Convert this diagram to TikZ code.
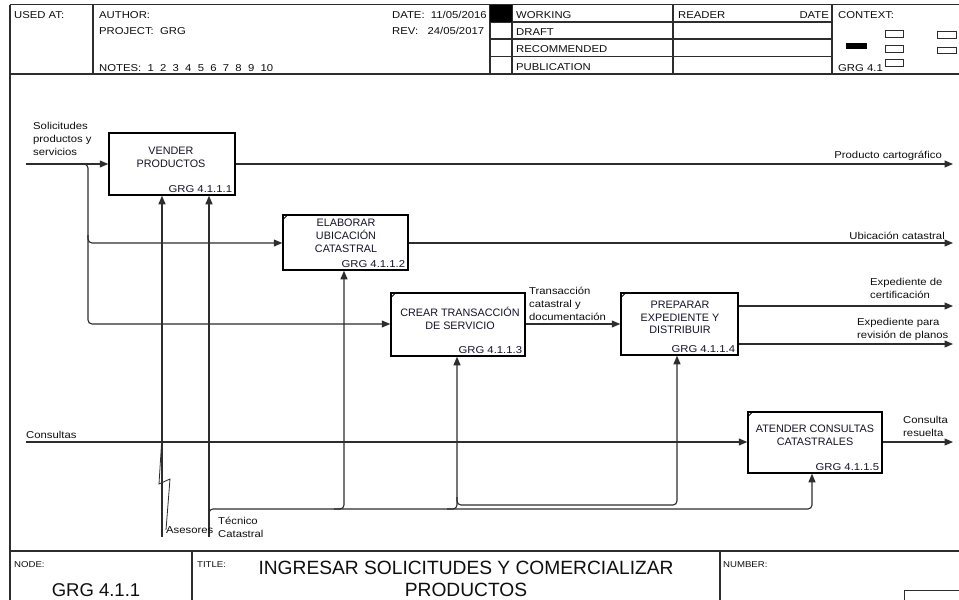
\documentclass[tikz,border=0pt]{standalone}
\usepackage{fontspec}
\setmainfont{Liberation Sans}[FakeStretch=1.13]
\newfontfamily\boxfont{Liberation Sans}
\usetikzlibrary{arrows.meta}
\definecolor{linec}{RGB}{45,45,45}
\definecolor{txtc}{RGB}{15,15,15}
\definecolor{boxtxt}{RGB}{20,20,40}
\begin{document}
\begin{tikzpicture}[x=1pt,y=-1pt,
  frame/.style={draw=linec, line width=1.4pt},
  thin/.style={draw=linec, line width=0.9pt},
  conn/.style={draw=linec, line width=1pt},
  arr/.style={draw=linec, line width=1.1pt, -{Triangle[length=8.5pt,width=7pt]}},
  lbl/.style={font=\fontsize{10}{13}\selectfont, text=txtc, inner sep=0pt},
  hdr/.style={font=\fontsize{10}{12}\selectfont, text=txtc, inner sep=0pt, anchor=base west},
  small/.style={font=\fontsize{8.5}{9}\selectfont, text=txtc, inner sep=0pt, anchor=base west},
  procbox/.style={draw=black, line width=1.5pt, inner sep=0pt, fill=white},
  boxtitle/.style={font=\boxfont\fontsize{10.8}{12.8}\selectfont, text=boxtxt, align=center, inner sep=0pt},
  idlbl/.style={font=\fontsize{10}{12}\selectfont, text=boxtxt, inner sep=0pt, anchor=base east},
  cornermark/.style={draw=black, line width=0.9pt}
]
\useasboundingbox (0,0) rectangle (959,600);
\fill[white] (0,0) rectangle (959,600);

% ---------- header frame ----------
\draw[frame] (10,4.5) -- (959,4.5);
\draw[frame] (10,74) -- (959,74);
\draw[frame] (10,4.5) -- (10,551);
\draw[frame] (93,4.5) -- (93,74);
\draw[frame] (490,4.5) -- (490,74);
\draw[frame] (512,4.5) -- (512,74);
\draw[frame] (673,4.5) -- (673,74);
\draw[frame] (832,4.5) -- (832,74);
\draw[frame] (490,22) -- (832,22);
\draw[frame] (490,39) -- (832,39);
\draw[frame] (490,56.5) -- (832,56.5);
\fill[black] (490,4.5) rectangle (512,22);

\node[hdr] (usedat) at (14,18) {USED AT:};
\node[hdr] (author) at (99,18) {AUTHOR:};
\node[hdr] (project) at (99,34) {PROJECT:~~GRG};
\node[hdr] (notes) at (99,71) {NOTES:~~1~~2~~3~~4~~5~~6~~7~~8~~9~~10};
\node[hdr] (date) at (392,18) {DATE:~~11/05/2016};
\node[hdr] (rev) at (392,34) {REV:~~~24/05/2017};
\node[hdr] (working) at (516,18) {WORKING};
\node[hdr] (draft) at (516,35) {DRAFT};
\node[hdr] (recom) at (516,52.5) {RECOMMENDED};
\node[hdr] (publ) at (516,70) {PUBLICATION};
\node[hdr] (reader) at (678,18) {READER};
\node[hdr, anchor=base east] (rdate) at (829,18) {DATE};
\node[hdr] (context) at (838,18) {CONTEXT:};
\node[hdr] (ctxid) at (838,71) {GRG 4.1};
\fill[black] (846,43) rectangle (867,48.5);
\draw[thin] (885,30.5) rectangle (903,37);
\draw[thin] (885,45.5) rectangle (903,52);
\draw[thin] (885,59.5) rectangle (903,66);
\draw[thin] (937,31.5) rectangle (956,38);
\draw[thin] (937,47) rectangle (956,53.5);

% ---------- bottom frame ----------
\draw[frame] (10,551) -- (959,551);
\draw[frame] (10,551) -- (10,600);
\draw[frame] (192,551) -- (192,600);
\draw[frame] (720,551) -- (720,600);
\draw[thin] (904,601) -- (904,590) -- (960,590);
\node[small] (nodelbl) at (14,567) {NODE:};
\node[small] (titlelbl) at (197,567) {TITLE:};
\node[small] (numlbl) at (723,567) {NUMBER:};
\node[font=\boxfont\fontsize{18.5}{20}\selectfont, text=txtc, inner sep=0pt, anchor=base] (nodeid) at (96,596) {GRG 4.1.1};
\node[font=\boxfont\fontsize{19.2}{22}\selectfont, text=txtc, inner sep=0pt, align=center, anchor=base] (title) at (466,596.5) {INGRESAR SOLICITUDES Y COMERCIALIZAR\\PRODUCTOS};

% ---------- process boxes ----------
\node[procbox, minimum width=126pt, minimum height=62pt] (b1) at (172,164) {};
\node[procbox, minimum width=125pt, minimum height=55pt] (b2) at (345.5,242.5) {};
\node[procbox, minimum width=134pt, minimum height=63pt] (b3) at (458,324.5) {};
\node[procbox, minimum width=117pt, minimum height=62pt] (b4) at (679.5,324) {};
\node[procbox, minimum width=134pt, minimum height=61pt] (b5) at (815,442.5) {};

\foreach \b in {b2,b3,b4,b5}{
  \draw[cornermark] ([shift={(0,6)}]\b.north west) -- ([shift={(6,0)}]\b.north west);
}

\node[boxtitle] (t1) at (171,157) {VENDER\\PRODUCTOS};
\node[boxtitle] (t2) at (346,235.5) {ELABORAR\\UBICACIÓN\\CATASTRAL};
\node[boxtitle] (t3) at (460,318) {CREAR TRANSACCIÓN\\DE SERVICIO};
\node[boxtitle] (t4) at (680,317.5) {PREPARAR\\EXPEDIENTE Y\\DISTRIBUIR};
\node[boxtitle] (t5) at (815,435.5) {ATENDER CONSULTAS\\CATASTRALES};

\node[idlbl] (id1) at ([shift={(-3.5,-3.5)}]b1.south east) {GRG 4.1.1.1};
\node[idlbl] (id2) at ([shift={(-3.5,-3.5)}]b2.south east) {GRG 4.1.1.2};
\node[idlbl] (id3) at ([shift={(-3.5,-3.5)}]b3.south east) {GRG 4.1.1.3};
\node[idlbl] (id4) at ([shift={(-3.5,-3.5)}]b4.south east) {GRG 4.1.1.4};
\node[idlbl] (id5) at ([shift={(-3.5,-3.5)}]b5.south east) {GRG 4.1.1.5};

% ---------- connector coordinates ----------
\coordinate (in1) at (26,164);
\coordinate (j1) at (88,164);
\coordinate (j2) at (88,243);
\coordinate (j3) at (88,324);
\coordinate (o1) at (953,164);
\coordinate (o2) at (953,243);
\coordinate (o4a) at (953,306);
\coordinate (o4b) at (953,344);
\coordinate (in5) at (26,442);
\coordinate (o5) at (953,442);
\coordinate (m1) at (162,537);
\coordinate (m2) at (209,537);
\coordinate (k0) at (209,509);
\coordinate (k2) at (344,509);
\coordinate (k3) at (457,509);
\coordinate (k3b) at (457,505);
\coordinate (k4) at (677,505);
\coordinate (k5) at (812,509);

% ---------- inputs ----------
\draw[arr] (in1) -- (b1.west);
\draw[arr, rounded corners=4] ([xshift=-8pt]j1) -- (j1) -- (j3) -- (b3.west |- j3);
\draw[arr, rounded corners=4] ([yshift=8pt]j2) -- (j2) -- (b2.west |- j2);
\draw[arr] (in5) -- (b5.west |- in5);

% ---------- outputs ----------
\draw[arr] (b1.east) -- (o1);
\draw[arr] (b2.east |- o2) -- (o2);
\draw[arr] (b3.east |- j3) -- (b4.west |- j3);
\draw[arr] (b4.east |- o4a) -- (o4a);
\draw[arr] (b4.east |- o4b) -- (o4b);
\draw[arr] (b5.east |- o5) -- (o5);

% ---------- mechanisms ----------
\draw[arr] (m1) -- (b1.south -| m1);
\draw[arr] (m2) -- (b1.south -| m2);
\draw[arr, rounded corners=4] ([yshift=-9pt]k0) -- (k0) -- (k5) -- (b5.south -| k5);
\draw[arr, rounded corners=4] ([xshift=-10pt]k2) -- (k2) -- (b2.south -| k2);
\draw[arr, rounded corners=4] ([xshift=-10pt]k3) -- (k3) -- (b3.south -| k3);
\draw[arr, rounded corners=4] ([yshift=8pt]k3b) -- (k3b) -- (k4) -- (b4.south -| k4);
\draw[conn, line width=0.8pt] (162,436) -- (159,484) -- (170,479) -- (166,530);

% ---------- labels ----------
\node[lbl, anchor=north west, align=left] (l1) at (33,122) {Solicitudes\\productos y\\servicios};
\node[lbl, anchor=base west] (l5) at (26,438) {Consultas};
\node[lbl, anchor=base east] (lo1) at (942,158) {Producto cartográfico};
\node[lbl, anchor=base east] (lo2) at (945,239) {Ubicación catastral};
\node[lbl, anchor=north west, align=left] (lt) at (529,287) {Transacción\\catastral y\\documentación};
\node[lbl, anchor=north west, align=left] (lo4a) at (870,278) {Expediente de\\certificación};
\node[lbl, anchor=north west, align=left] (lo4b) at (857,318) {Expediente para\\revisión de planos};
\node[lbl, anchor=north west, align=left] (lo5) at (903,416) {Consulta\\resuelta};
\node[lbl, anchor=base west] (lm1) at (166,533) {Asesores};
\node[lbl, anchor=north west, align=left] (lm2) at (218,517) {Técnico\\Catastral};
\end{tikzpicture}
\end{document}
